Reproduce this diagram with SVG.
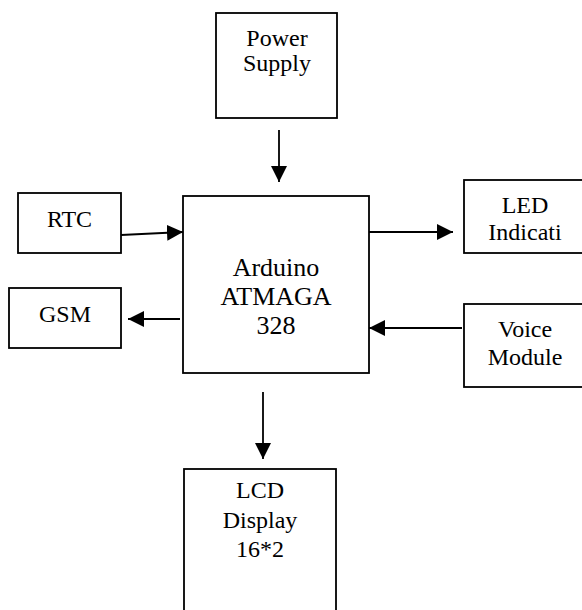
<svg xmlns="http://www.w3.org/2000/svg" width="582" height="610" viewBox="0 0 582 610">
<style>
.box{fill:#fff;stroke:#000;stroke-width:1.8}
.t{font-family:"Liberation Serif","Times New Roman",serif;font-size:24px;fill:#000;text-anchor:middle}
.big{font-size:26px}
.c{stroke:#000;stroke-width:1.8;fill:none;marker-end:url(#ah)}
</style>
<defs>
<marker id="ah" markerUnits="userSpaceOnUse" markerWidth="18" markerHeight="16" refX="16" refY="8" orient="auto">
<path d="M0,0 L16,8 L0,16 Z" fill="#000"/>
</marker>
</defs>
<rect width="582" height="610" fill="#fff"/>
<g id="power"><rect class="box" x="216" y="13" width="121" height="105"/>
<text class="t" x="277" y="46">Power</text><text class="t" x="277" y="71">Supply</text></g>
<g id="arduino"><rect class="box" x="183" y="196" width="186" height="177"/>
<text class="t big" x="276" y="276">Arduino</text><text class="t big" x="276" y="305">ATMAGA</text><text class="t big" x="276" y="334">328</text></g>
<g id="rtc"><rect class="box" x="18" y="193" width="103" height="60"/>
<text class="t" x="69.5" y="227">RTC</text></g>
<g id="gsm"><rect class="box" x="9" y="288" width="112" height="60"/>
<text class="t" x="65" y="322">GSM</text></g>
<g id="led"><rect class="box" x="464" y="180" width="126" height="73"/>
<text class="t" x="525" y="213">LED</text><text class="t" x="525" y="240">Indicati</text></g>
<g id="voice"><rect class="box" x="464" y="304" width="126" height="83"/>
<text class="t" x="525" y="337">Voice</text><text class="t" x="525" y="365">Module</text></g>
<g id="lcd"><rect class="box" x="184" y="469" width="152" height="160"/>
<text class="t" x="260" y="498">LCD</text><text class="t" x="260" y="528">Display</text><text class="t" x="260" y="557">16*2</text></g>
<g id="connectors">
<line class="c" x1="279" y1="130" x2="279" y2="182"/>
<line class="c" x1="121" y1="235" x2="183" y2="232"/>
<line class="c" x1="180" y1="319" x2="128" y2="319"/>
<line class="c" x1="369" y1="232" x2="453" y2="232"/>
<line class="c" x1="462" y1="328" x2="369" y2="328"/>
<line class="c" x1="263" y1="392" x2="263" y2="459"/>
</g>
</svg>
